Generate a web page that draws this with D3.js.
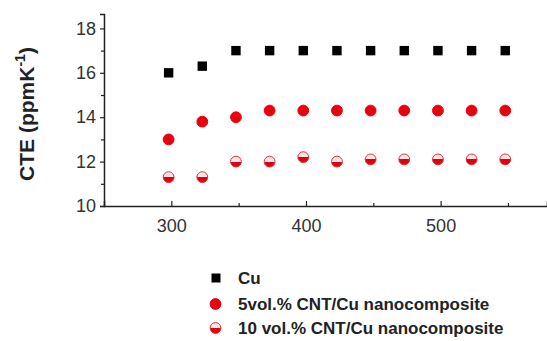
<!DOCTYPE html>
<html>
<head>
<meta charset="utf-8">
<script src="https://cdn.jsdelivr.net/npm/d3@7"></script>
<style>
  body { margin: 0; background: #fff; }
  text { font-family: "Liberation Sans", Arial, sans-serif; }
</style>
</head>
<body>
<div id="chart"></div>
<script>
// temperatures (K) and CTE values
var temps = [298, 323, 348, 373, 398, 423, 448, 473, 498, 523, 548];
var cu = [16.0, 16.3, 17.0, 17.0, 17.0, 17.0, 17.0, 17.0, 17.0, 17.0, 17.0];
var cnt5 = [13.0, 13.8, 14.0, 14.3, 14.3, 14.3, 14.3, 14.3, 14.3, 14.3, 14.3];
var cnt10 = [11.3, 11.3, 12.0, 12.0, 12.2, 12.0, 12.1, 12.1, 12.1, 12.1, 12.1];
var xTicks = [300, 400, 500];
var xMinor = [350, 450, 550];
var yTicks = [10, 12, 14, 16, 18];
var yMinor = [11, 13, 15, 17];
var legendLabels = ["Cu", "5vol.% CNT/Cu nanocomposite", "10 vol.% CNT/Cu nanocomposite"];

var W = 547, H = 341;
var margin = {top: 14, left: 104};
var plotBottom = 206, plotRight = 547;

var svg = d3.select("#chart").append("svg").attr("width", W).attr("height", H);

var x = d3.scaleLinear().domain([250, 579]).range([margin.left, plotRight]);
var y = d3.scaleLinear().domain([10, 18.65]).range([plotBottom, margin.top]);

// axes
svg.append("g").attr("transform", "translate(0," + plotBottom + ")")
  .call(d3.axisBottom(x).tickValues(xTicks).tickSize(-5).tickPadding(13).tickFormat(d3.format("d")));
svg.append("g").attr("transform", "translate(0," + plotBottom + ")")
  .call(d3.axisBottom(x).tickValues(xMinor).tickSize(-3).tickFormat(""))
  .select(".domain").remove();
svg.append("g").attr("transform", "translate(" + margin.left + ",0)")
  .call(d3.axisLeft(y).tickValues(yTicks).tickSize(4).tickPadding(4));
svg.append("g").attr("transform", "translate(" + margin.left + ",0)")
  .call(d3.axisLeft(y).tickValues(yMinor).tickSize(3).tickFormat(""))
  .select(".domain").remove();

svg.selectAll(".domain").attr("stroke", "#222").attr("stroke-width", 1.5);
svg.selectAll(".tick line").attr("stroke", "#222").attr("stroke-width", 1.2);
svg.selectAll(".tick text").attr("font-size", 18).attr("fill", "#333")
  .attr("font-family", "'Liberation Sans', Arial, sans-serif");

// y label
var yl = svg.append("text")
  .attr("transform", "translate(34,114) rotate(-90)")
  .attr("text-anchor", "middle")
  .attr("font-size", 21).attr("font-weight", "bold").attr("fill", "#222");
yl.append("tspan").text("CTE (ppmK");
yl.append("tspan").attr("dy", -9).attr("font-size", 14).text("-1");
yl.append("tspan").attr("dy", 9).text(")");

// half-filled marker fill
var defs = svg.append("defs");
var half = defs.append("linearGradient").attr("id", "half").attr("x1", 0).attr("y1", 0).attr("x2", 0).attr("y2", 1);
half.append("stop").attr("offset", "50%").attr("stop-color", "#fde6e6");
half.append("stop").attr("offset", "50%").attr("stop-color", "#e0000f");

function drawSeries(vals, kind) {
  var data = temps.map(function(t, i) { return {t: t, v: vals[i]}; });
  var g = svg.append("g");
  if (kind === "square") {
    g.selectAll("rect").data(data).enter().append("rect")
      .attr("x", function(d) { return x(d.t) - 4.7; })
      .attr("y", function(d) { return y(d.v) - 4.7; })
      .attr("width", 9.4).attr("height", 9.4).attr("fill", "#000");
  } else {
    g.selectAll("circle").data(data).enter().append("circle")
      .attr("cx", function(d) { return x(d.t); })
      .attr("cy", function(d) { return y(d.v); })
      .attr("r", 5.4)
      .attr("fill", kind === "half" ? "url(#half)" : "#e8000d")
      .attr("stroke", kind === "half" ? "#e0303a" : "#e8000d")
      .attr("stroke-width", 1);
  }
}
drawSeries(cu, "square");
drawSeries(cnt5, "circle");
drawSeries(cnt10, "half");

// legend
var lg = svg.append("g");
var rows = [278, 304, 328];
legendLabels.forEach(function(lab, i) {
  var cy = rows[i];
  if (i === 0) {
    lg.append("rect").attr("x", 211.5).attr("y", cy - 4.5).attr("width", 9).attr("height", 9).attr("fill", "#000");
  } else {
    lg.append("circle").attr("cx", 215.5).attr("cy", cy).attr("r", 5.4)
      .attr("fill", i === 2 ? "url(#half)" : "#e8000d")
      .attr("stroke", i === 2 ? "#e0303a" : "#e8000d");
  }
  lg.append("text").attr("x", 238).attr("y", cy + 6)
    .attr("font-size", 17).attr("font-weight", "bold").attr("fill", "#222")
    .text(lab);
});
</script>
</body>
</html>
